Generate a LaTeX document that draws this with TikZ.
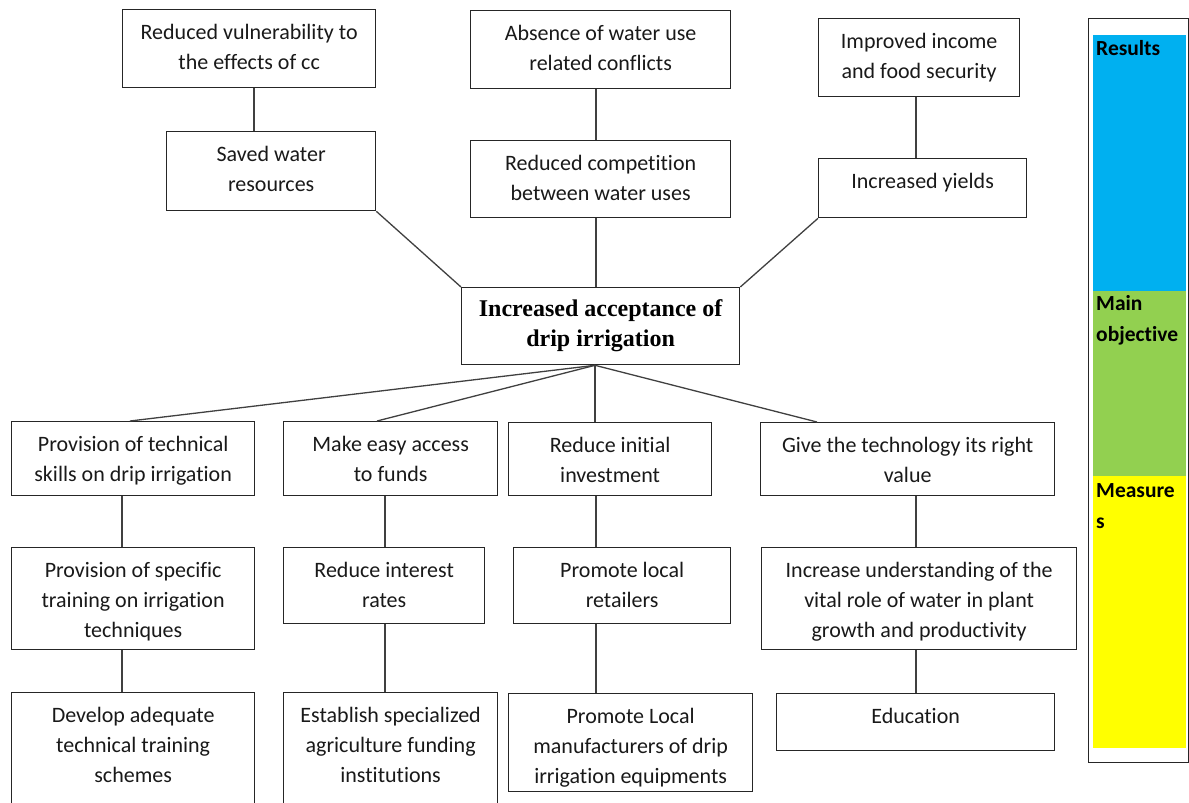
\documentclass[tikz,border=0pt]{standalone}
\usepackage{fontspec}
\setmainfont{Carlito}[Ligatures=NoCommon]
\newfontfamily\titlefont{Liberation Serif}
\begin{document}
\begin{tikzpicture}[x=1pt,y=-1pt,
  box/.style={draw=black!85, line width=1.3pt, rectangle, inner sep=0pt, anchor=north west},
  boxtext/.style={align=center, font=\fontsize{22}{30}\selectfont, inner sep=0pt, anchor=north, text=black!90},
  link/.style={draw=black!75, line width=1.3pt},
  legendtext/.style={align=left, font=\bfseries\fontsize{21.5}{31}\selectfont, inner sep=0pt, anchor=north west, text=black}]

% box: name, left, top, right, bottom, text
\newcommand\planbox[6]{%
  \node[box, minimum width={#4-#2}, minimum height={#5-#3}] (#1) at (#2,#3) {};
  \node[boxtext] (#1-t) at ([yshift=-15pt]#1.north) {#6};}

\clip (0,0) rectangle (1189,803);
\useasboundingbox (0,0) rectangle (1189,803);

% results
\planbox{r1a}{122}{9}{375}{87}{Reduced vulnerability to\\the effects of cc}
\planbox{r1b}{166}{131}{375}{210}{Saved water\\resources}
\planbox{r2a}{470}{10}{730}{88}{Absence of water use\\related conflicts}
\planbox{r2b}{470}{140}{730}{217}{Reduced competition\\between water uses}
\planbox{r3a}{818}{18}{1019}{96}{Improved income\\and food security}
\planbox{r3b}{818}{158}{1026}{217}{Increased yields}

% main objective
\node[box, minimum width=278, minimum height=77] (goal) at (461,287) {};
\node[align=center, inner sep=0pt, anchor=north, font=\titlefont\bfseries\fontsize{24}{30}\selectfont]
  (goal-t) at ([yshift=-12pt]goal.north) {Increased acceptance of\\drip irrigation};

% measures
\planbox{m1a}{11}{421}{254}{495}{Provision of technical\\skills on drip irrigation}
\planbox{m1b}{11}{547}{254}{649}{Provision of specific\\training on irrigation\\techniques}
\planbox{m1c}{11}{692}{254}{830}{Develop adequate\\technical training\\schemes}
\planbox{m2a}{283}{421}{497}{495}{Make easy access\\to funds}
\planbox{m2b}{283}{547}{484}{623}{Reduce interest\\rates}
\planbox{m2c}{283}{692}{497}{830}{Establish specialized\\agriculture funding\\institutions}
\planbox{m3a}{508}{422}{711}{495}{Reduce initial\\investment}
\planbox{m3b}{513}{547}{730}{623}{Promote local\\retailers}
\planbox{m3c}{508}{693}{752}{791}{Promote Local\\manufacturers of drip\\irrigation equipments}
\planbox{m4a}{760}{422}{1054}{495}{Give the technology its right\\value}
\planbox{m4b}{761}{547}{1076}{649}{Increase understanding of the\\vital role of water in plant\\growth and productivity}
\planbox{m4c}{776}{693}{1054}{750}{Education}

% connectors, results side
\draw[link] (254,0 |- r1a.south) -- (254,0 |- r1b.north);
\draw[link] (596,0 |- r2a.south) -- (596,0 |- r2b.north);
\draw[link] (916,0 |- r3a.south) -- (916,0 |- r3b.north);
\draw[link] (r1b.south east) -- (goal.north west);
\draw[link] (596,0 |- r2b.south) -- (596,0 |- goal.north);
\draw[link] (r3b.south west) -- (goal.north east);

% connectors, measures side
\coordinate (hub) at (595,0 |- goal.south);
\draw[link] (hub) -- (130,0 |- m1a.north);
\draw[link] (hub) -- (377,0 |- m2a.north);
\draw[link] (hub) -- (595,0 |- m3a.north);
\draw[link] (hub) -- (817,0 |- m4a.north);
\draw[link] (122,0 |- m1a.south) -- (122,0 |- m1b.north);
\draw[link] (122,0 |- m1b.south) -- (122,0 |- m1c.north);
\draw[link] (385,0 |- m2a.south) -- (385,0 |- m2b.north);
\draw[link] (385,0 |- m2b.south) -- (385,0 |- m2c.north);
\draw[link] (596,0 |- m3a.south) -- (596,0 |- m3b.north);
\draw[link] (596,0 |- m3b.south) -- (596,0 |- m3c.north);
\draw[link] (916,0 |- m4a.south) -- (916,0 |- m4b.north);
\draw[link] (916,0 |- m4b.south) -- (916,0 |- m4c.north);

% legend
\node[box, minimum width=100, minimum height=744] (legend) at (1088,18) {};
\fill[fill={rgb,255:red,0;green,176;blue,240}] (1093,35) rectangle (1186,291);
\fill[fill={rgb,255:red,146;green,208;blue,80}] (1093,291) rectangle (1186,476);
\fill[fill={rgb,255:red,255;green,255;blue,0}] (1093,476) rectangle (1186,748);
\node[legendtext] (lg-results) at (1096,40) {Results};
\node[legendtext] (lg-main) at (1096,295) {Main\\objective};
\node[legendtext] (lg-measures) at (1096,483) {Measure\\s};
\end{tikzpicture}
\end{document}
